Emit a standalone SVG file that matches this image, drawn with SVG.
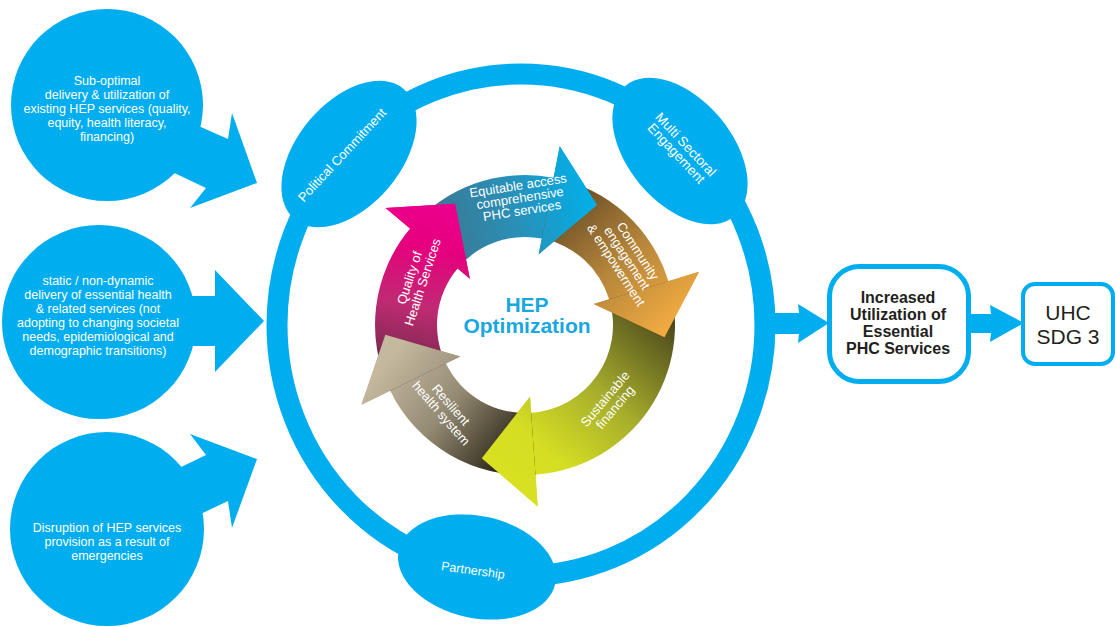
<svg xmlns="http://www.w3.org/2000/svg" width="1115" height="627" viewBox="0 0 1115 627">
<defs>
<style>
.cy{fill:#00aeef}
.wt{fill:#ffffff;font-family:"Liberation Sans",Arial,sans-serif;text-anchor:middle}
.lt{font-size:12.5px}
.ct{font-size:13px}
.bx{fill:#ffffff;stroke:#00aeef}
.dk{fill:#231f20;font-family:"Liberation Sans",Arial,sans-serif;text-anchor:middle}
</style>
<linearGradient id="gA" gradientUnits="userSpaceOnUse" x1="434" y1="249" x2="597" y2="205">
<stop offset="0" stop-color="#3d7590"/><stop offset="0.5" stop-color="#2a8fb6"/><stop offset="1" stop-color="#00b0ea"/>
</linearGradient>
<linearGradient id="gB" gradientUnits="userSpaceOnUse" x1="548" y1="208" x2="664" y2="337">
<stop offset="0" stop-color="#654a26"/><stop offset="0.5" stop-color="#b4853a"/><stop offset="1" stop-color="#f4ac42"/>
</linearGradient>
<linearGradient id="gC" gradientUnits="userSpaceOnUse" x1="650" y1="300" x2="500" y2="470">
<stop offset="0" stop-color="#4a461c"/><stop offset="0.45" stop-color="#a6ad2c"/><stop offset="0.8" stop-color="#d5de23"/><stop offset="1" stop-color="#d8e021"/>
</linearGradient>
<linearGradient id="gD" gradientUnits="userSpaceOnUse" x1="520" y1="440" x2="400" y2="345">
<stop offset="0" stop-color="#2f2a1a"/><stop offset="0.5" stop-color="#948a73"/><stop offset="1" stop-color="#c4b89e"/>
</linearGradient>
<linearGradient id="gE" gradientUnits="userSpaceOnUse" x1="410" y1="385" x2="445" y2="215">
<stop offset="0" stop-color="#5e2a40"/><stop offset="0.45" stop-color="#c02a73"/><stop offset="0.8" stop-color="#e6007e"/><stop offset="1" stop-color="#ea008a"/>
</linearGradient>
</defs>
<rect width="1115" height="627" fill="#ffffff"/>

<g id="connectors" class="cy">
<path d="M185,120 L228,139 L232,113 L257,183 L190,208 L206,188 L168,170 Z"/>
<path d="M150,296 L215,296 L215,270 L264,321 L215,372 L215,346 L150,346 Z"/>
<path d="M146,484 L206,455 L190,434 L257,459 L232,528 L228,501 L167,530 Z"/>
<path d="M768,313 L799,313 L798,304 L829,323 L798,343 L799,334 L768,334 Z"/>
<path d="M966,314 L991,314 L990,305 L1024,323 L990,342 L991,333 L966,333 Z"/>
</g>

<g id="cause-1">
<circle class="cy" cx="107" cy="105" r="96"/>
<text class="wt lt"><tspan x="107" y="85">Sub-optimal</tspan><tspan x="107" y="99">delivery &amp; utilization of</tspan><tspan x="107" y="113">existing HEP services (quality,</tspan><tspan x="107" y="127">equity, health literacy,</tspan><tspan x="107" y="141">financing)</tspan></text>
</g>
<g id="cause-2">
<circle class="cy" cx="99" cy="322" r="97"/>
<text class="wt lt"><tspan x="98" y="285">static / non-dynamic</tspan><tspan x="98" y="299">delivery of essential health</tspan><tspan x="98" y="313">&amp; related services (not</tspan><tspan x="98" y="327">adopting to changing societal</tspan><tspan x="98" y="341">needs, epidemiological and</tspan><tspan x="98" y="355">demographic transitions)</tspan></text>
</g>
<g id="cause-3">
<circle class="cy" cx="107" cy="529" r="97"/>
<text class="wt lt"><tspan x="107" y="532">Disruption of HEP services</tspan><tspan x="107" y="546">provision as a result of</tspan><tspan x="107" y="560">emergencies</tspan></text>
</g>

<g id="ring">
<ellipse cx="521" cy="325" rx="244" ry="251" fill="none" stroke="#00aeef" stroke-width="21"/>
</g>
<g id="political-commitment">
<ellipse class="cy" cx="349" cy="154" rx="85" ry="52" transform="rotate(-50 349 154)"/>
<text class="wt" font-size="13" transform="translate(342,155) rotate(-47)" y="4.5">Political Commitment</text>
</g>
<g id="multi-sectoral">
<ellipse class="cy" cx="680" cy="151" rx="85" ry="52" transform="rotate(50 680 151)"/>
<text class="wt" font-size="13.5" transform="translate(681,149) rotate(47)"><tspan x="0" y="-2">Multi Sectoral</tspan><tspan x="0" y="11">Engagement</tspan></text>
</g>
<g id="partnership">
<ellipse class="cy" cx="477" cy="567" rx="80" ry="51" transform="rotate(12 477 567)"/>
<text class="wt" font-size="12.5" transform="translate(473,570) rotate(8)" y="4.5">Partnership</text>
</g>

<g id="cycle">
<path id="arrow-equitable" fill="url(#gA)" d="M457.59,268.43 L410.10,228.58 A150,150 0 0 1 553.62,177.76 L559.73,146.35 L597.10,205.00 L538.74,254.32 L541.79,238.62 A88,88 0 0 0 457.59,268.43 Z"/>
<path id="arrow-community" fill="url(#gB)" d="M541.79,238.62 L553.62,177.76 A150,150 0 0 1 668.45,281.14 L699.05,271.78 L664.47,337.21 L593.85,303.95 L609.15,299.27 A88,88 0 0 0 541.79,238.62 Z"/>
<path id="arrow-financing" fill="url(#gC)" d="M609.15,299.27 L668.45,281.14 A150,150 0 0 1 535.47,474.64 L537.70,506.56 L481.74,458.15 L530.03,396.83 L531.14,412.79 A88,88 0 0 0 609.15,299.27 Z"/>
<path id="arrow-resilient" fill="url(#gD)" d="M531.14,412.79 L535.47,474.64 A150,150 0 0 1 390.18,390.76 L361.42,404.79 L385.34,334.77 L460.29,356.56 L445.91,363.58 A88,88 0 0 0 531.14,412.79 Z"/>
<path id="arrow-quality" fill="url(#gE)" d="M445.91,363.58 L390.18,390.76 A150,150 0 0 1 410.10,228.58 L385.58,208.01 L455.00,203.76 L469.85,278.72 L457.59,268.43 A88,88 0 0 0 445.91,363.58 Z"/>
<path fill="url(#gA)" d="M559.73,146.35 L597.10,205.00 L538.74,254.32 Z"/>
<path fill="url(#gB)" d="M699.05,271.78 L664.47,337.21 L593.85,303.95 Z"/>
<path fill="url(#gC)" d="M537.70,506.56 L481.74,458.15 L530.03,396.83 Z"/>
<path fill="url(#gD)" d="M361.42,404.79 L385.34,334.77 L460.29,356.56 Z"/>
<path fill="url(#gE)" d="M385.58,208.01 L455.00,203.76 L469.85,278.72 Z"/>
<text class="wt ct" transform="translate(520,198) rotate(-9)"><tspan x="0" y="-8.2">Equitable access</tspan><tspan x="0" y="4.5">comprehensive</tspan><tspan x="0" y="17.2">PHC services</tspan></text>
<text class="wt ct" transform="translate(627,258) rotate(57)"><tspan x="0" y="-8.5">Community</tspan><tspan x="0" y="4.5">engagement</tspan><tspan x="0" y="17.5">&amp; empowerment</tspan></text>
<text class="wt ct" transform="translate(610,403) rotate(-50)"><tspan x="0" y="-2">Sustainable</tspan><tspan x="0" y="11">financing</tspan></text>
<text class="wt ct" transform="translate(446,409) rotate(49)"><tspan x="0" y="-2">Resilient</tspan><tspan x="0" y="11">health system</tspan></text>
<text class="wt ct" transform="translate(416,280) rotate(-72)"><tspan x="0" y="-2.5">Quality of</tspan><tspan x="0" y="11.5">Health Services</tspan></text>
</g>
<g id="hep-optimization">
<text font-family="'Liberation Sans',Arial,sans-serif" font-weight="bold" font-size="21" fill="#1aa7e0" text-anchor="middle"><tspan x="527" y="312">HEP</tspan><tspan x="527" y="333">Optimization</tspan></text>
</g>

<g id="increased-utilization">
<rect class="bx" x="829.5" y="266.5" width="139" height="115" rx="30" stroke-width="5"/>
<text class="dk" font-size="16" font-weight="bold"><tspan x="898" y="303">Increased</tspan><tspan x="898" y="320">Utilization of</tspan><tspan x="898" y="337">Essential</tspan><tspan x="898" y="354">PHC Services</tspan></text>
</g>
<g id="uhc-sdg3">
<rect class="bx" x="1023" y="284" width="90" height="80" rx="12" stroke-width="4"/>
<text class="dk" font-size="21" fill="#333333"><tspan x="1068" y="320">UHC</tspan><tspan x="1068" y="344">SDG 3</tspan></text>
</g>
</svg>
